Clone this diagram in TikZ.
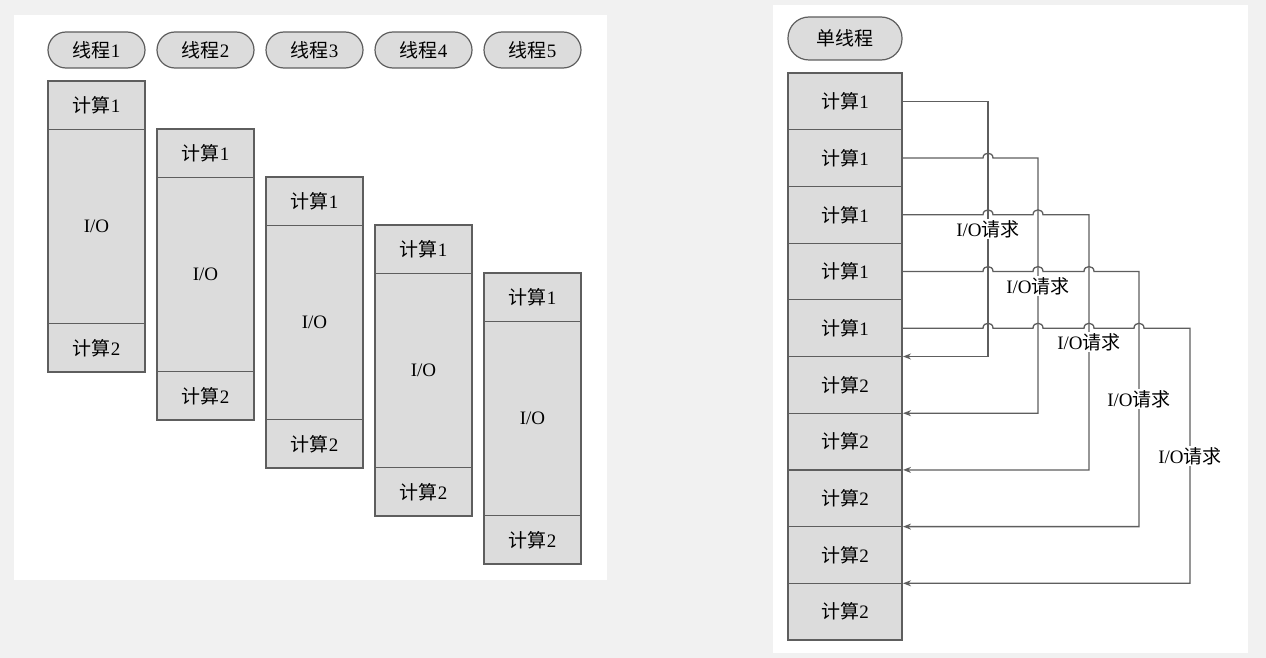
\documentclass[tikz,border=0pt]{standalone}
\usepackage{fontspec}
\setmainfont{Liberation Serif}
\newfontfamily\cjk{Noto Sans CJK SC}
\usepackage{tikz}
\usetikzlibrary{arrows.meta,positioning}

\definecolor{boxgray}{HTML}{DCDCDC}
\definecolor{linegray}{HTML}{5E5E5E}
\definecolor{pagegray}{HTML}{F1F1F1}

\newcommand{\compone}{{\cjk 计算}1}
\newcommand{\comptwo}{{\cjk 计算}2}
\newcommand{\ioreq}{I/O{\cjk 请求}}

\begin{document}
\begin{tikzpicture}[x=1pt,y=-1pt,>={Stealth[length=8pt,width=6pt]},shorten >=1pt,
  thread node/.style={rectangle,rounded corners=18pt,fill=boxgray,draw=linegray,line width=1.2pt,
    minimum width=97pt,minimum height=36pt,inner sep=0pt,font=\fontsize{19}{21}\selectfont},
  comp node/.style={rectangle,fill=boxgray,draw=linegray,line width=1.2pt,minimum width=97pt,
    minimum height=48.5pt,inner sep=0pt,outer sep=0pt,font=\fontsize{19}{21}\selectfont},
  io node/.style={comp node,minimum height=194pt},
  stepbox node/.style={comp node,minimum width=114pt,minimum height=56.7pt},
  req node/.style={fill=white,inner sep=1pt,font=\fontsize{19}{21}\selectfont},
  link/.style={->,draw=linegray,line width=1.3pt},
  hop/.style 2 args={insert path={-- (#1-5,#2) .. controls (#1-5,#2-6.5) and (#1+5,#2-6.5) .. (#1+5,#2)}}]
  \useasboundingbox (0,0) rectangle (1266,658);
  \fill[pagegray] (0,0) rectangle (1266,658);
  \fill[white] (14,15) rectangle (607,580);
  \fill[white] (773,5) rectangle (1248,653);

  % five threads
  \node[thread node] (p1) at (96.5,50) {{\cjk 线程}1};
  \node[thread node] (p2) at (205.5,50) {{\cjk 线程}2};
  \node[thread node] (p3) at (314.5,50) {{\cjk 线程}3};
  \node[thread node] (p4) at (423.5,50) {{\cjk 线程}4};
  \node[thread node] (p5) at (532.5,50) {{\cjk 线程}5};

  \node[comp node] (a1) at (96.5,105.25) {\compone};
  \node[io node]   (io1) [below=0pt of a1] {I/O};
  \node[comp node] (b1) [below=0pt of io1] {\comptwo};
  \node[comp node] (a2) at (205.5,153.25) {\compone};
  \node[io node]   (io2) [below=0pt of a2] {I/O};
  \node[comp node] (b2) [below=0pt of io2] {\comptwo};
  \node[comp node] (a3) at (314.5,201.25) {\compone};
  \node[io node]   (io3) [below=0pt of a3] {I/O};
  \node[comp node] (b3) [below=0pt of io3] {\comptwo};
  \node[comp node] (a4) at (423.5,249.25) {\compone};
  \node[io node]   (io4) [below=0pt of a4] {I/O};
  \node[comp node] (b4) [below=0pt of io4] {\comptwo};
  \node[comp node] (a5) at (532.5,297.25) {\compone};
  \node[io node]   (io5) [below=0pt of a5] {I/O};
  \node[comp node] (b5) [below=0pt of io5] {\comptwo};

  % single thread
  \node[thread node,minimum width=114pt,minimum height=43pt,rounded corners=21pt] (single) at (845,38.5) {\cjk 单线程};
  \node[stepbox node] (s1) at (845,101.35) {\compone};
  \node[stepbox node] (s2) [below=0pt of s1] {\compone};
  \node[stepbox node] (s3) [below=0pt of s2] {\compone};
  \node[stepbox node] (s4) [below=0pt of s3] {\compone};
  \node[stepbox node] (s5) [below=0pt of s4] {\compone};
  \node[stepbox node] (t1) [below=0pt of s5] {\comptwo};
  \node[stepbox node] (t2) [below=0pt of t1] {\comptwo};
  \node[stepbox node] (t3) [below=0pt of t2] {\comptwo};
  \node[stepbox node] (t4) [below=0pt of t3] {\comptwo};
  \node[stepbox node] (t5) [below=0pt of t4] {\comptwo};

  \draw[link] (s1.east) -- (988,101.35) |- (t1.north east);
  \draw[link] (s2.east) [hop={988}{158.05}] -- (1038,158.05) |- (t2.north east);
  \draw[link] (s3.east) [hop={988}{214.75}] [hop={1038}{214.75}] -- (1089,214.75) |- (t3.north east);
  \draw[link] (s4.east) [hop={988}{271.45}] [hop={1038}{271.45}] [hop={1089}{271.45}]
    -- (1139,271.45) |- (t4.north east);
  \draw[link] (s5.east) [hop={988}{328.15}] [hop={1038}{328.15}] [hop={1089}{328.15}] [hop={1139}{328.15}]
    -- (1190,328.15) |- (t5.north east);

  \node[req node] (l1) at (988,229) {\ioreq};
  \node[req node] (l2) at (1038,286) {\ioreq};
  \node[req node] (l3) at (1089,342) {\ioreq};
  \node[req node] (l4) at (1139,399) {\ioreq};
  \node[req node] (l5) at (1190,456) {\ioreq};
\end{tikzpicture}
\end{document}
